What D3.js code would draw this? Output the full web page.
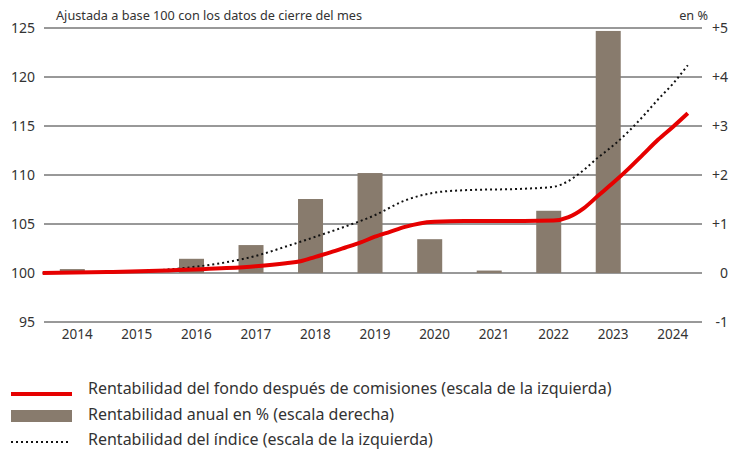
<!DOCTYPE html>
<html>
<head>
<meta charset="utf-8">
<script src="https://cdn.jsdelivr.net/npm/d3@7"></script>
<style>
  body { margin: 0; background: #fff; }
  svg text { font-family: "Noto Sans", "Open Sans", sans-serif; fill: #333; }
</style>
</head>
<body>
<svg width="738" height="453"></svg>
<script>
const years = [2014, 2015, 2016, 2017, 2018, 2019, 2020, 2021, 2022, 2023, 2024];
const annualReturn = [0.08, 0.06, 0.29, 0.57, 1.51, 2.04, 0.69, 0.05, 1.27, 4.94, 0];

const leftTicks = [95, 100, 105, 110, 115, 120, 125];
const rightTicks = [-1, 0, 1, 2, 3, 4, 5];

const fundDates = ["2013-12", "2015-01", "2016-01", "2017-01", "2017-07", "2018-01", "2018-04",
  "2018-07", "2018-10", "2019-01", "2019-04", "2019-07", "2019-10", "2020-01", "2020-04",
  "2020-07", "2021-01", "2022-01", "2022-07", "2022-10", "2023-01", "2023-04", "2023-07",
  "2023-10", "2024-01", "2024-04", "2024-07", "2024-10"];
const fundValues = [100, 100.1, 100.25, 100.5, 100.7, 101.0, 101.2,
  101.65, 102.1, 102.6, 103.1, 103.7, 104.2, 104.7, 105.06,
  105.22, 105.3, 105.3, 105.35, 105.7, 106.6, 107.9, 109.2,
  110.6, 112.1, 113.6, 114.9, 116.3];

const indexDates = ["2013-12", "2015-01", "2016-01", "2016-07", "2017-01", "2017-07", "2018-01",
  "2018-07", "2019-01", "2019-07", "2020-01", "2020-07", "2021-01", "2022-01", "2022-07",
  "2022-10", "2023-01", "2023-04", "2023-07", "2023-10", "2024-01", "2024-04", "2024-07",
  "2024-10"];
const indexValues = [100, 100.1, 100.35, 100.65, 101.1, 101.75, 102.7,
  103.7, 104.75, 105.9, 107.4, 108.2, 108.45, 108.6, 108.8,
  109.4, 110.5, 111.8, 113.0, 114.4, 116.0, 117.7, 119.3,
  121.2];

const legendLabels = [
  "Rentabilidad del fondo después de comisiones (escala de la izquierda)",
  "Rentabilidad anual en % (escala derecha)",
  "Rentabilidad del índice (escala de la izquierda)"
];

const parse = d3.timeParse("%Y-%m");
const svg = d3.select("svg");

const plotLeft = 44, plotRight = 702, plotTop = 28, plotBottom = 322;

const x = d3.scaleTime()
  .domain([new Date(2014, 0, 1), new Date(2025, 0, 1)])
  .range([47.7, 702.8]);
const yL = d3.scaleLinear().domain([95, 125]).range([plotBottom, plotTop]);
const yR = d3.scaleLinear().domain([-1, 5]).range([plotBottom, plotTop]);

// grid
svg.append("g")
  .selectAll("line")
  .data(leftTicks)
  .join("line")
  .attr("x1", plotLeft).attr("x2", plotRight)
  .attr("y1", d => yL(d)).attr("y2", d => yL(d))
  .attr("stroke", "#333").attr("stroke-width", 1);

// left axis labels
svg.append("g")
  .selectAll("text")
  .data(leftTicks)
  .join("text")
  .attr("x", 35).attr("y", d => yL(d) + 5)
  .attr("text-anchor", "end")
  .attr("font-size", 14)
  .text(d => d);

// right axis labels
svg.append("g")
  .selectAll("text")
  .data(rightTicks)
  .join("text")
  .attr("x", 728).attr("y", d => yR(d) + 5)
  .attr("text-anchor", "end")
  .attr("font-size", 14)
  .text(d => d > 0 ? "+" + d : d);

// year labels
svg.append("g")
  .selectAll("text")
  .data(years)
  .join("text")
  .attr("x", d => x(new Date(d, 6, 1)))
  .attr("y", 339)
  .attr("text-anchor", "middle")
  .attr("font-size", 13.5)
  .text(d => d);

// bars
const barW = 25;
svg.append("g")
  .selectAll("rect")
  .data(years.map((y, i) => ({year: y, v: annualReturn[i]})).filter(d => d.v > 0))
  .join("rect")
  .attr("x", d => x(new Date(d.year, 5, 1)) - barW / 2)
  .attr("width", barW)
  .attr("y", d => yR(d.v))
  .attr("height", d => yR(0) - yR(d.v))
  .attr("fill", "#887b6d");

// lines
const line = d3.line()
  .x(d => x(d.date))
  .y(d => yL(d.v))
  .curve(d3.curveMonotoneX);

const indexData = indexDates.map((d, i) => ({date: parse(d), v: indexValues[i]}));
const fundData = fundDates.map((d, i) => ({date: parse(d), v: fundValues[i]}));

svg.append("path")
  .datum(indexData)
  .attr("d", line)
  .attr("fill", "none")
  .attr("stroke", "#111")
  .attr("stroke-width", 2)
  .attr("stroke-dasharray", "2,3");

svg.append("path")
  .datum(fundData)
  .attr("d", line)
  .attr("fill", "none")
  .attr("stroke", "#e60000")
  .attr("stroke-width", 4)
  .attr("stroke-linejoin", "round");

// header texts
svg.append("text")
  .attr("x", 56).attr("y", 20)
  .attr("font-size", 12.7)
  .text("Ajustada a base 100 con los datos de cierre del mes");
svg.append("text")
  .attr("x", 708).attr("y", 20)
  .attr("text-anchor", "end")
  .attr("font-size", 12.7)
  .text("en %");

// legend
const lg = svg.append("g");
lg.append("line")
  .attr("x1", 11).attr("x2", 72).attr("y1", 394).attr("y2", 394)
  .attr("stroke", "#e60000").attr("stroke-width", 4);
lg.append("rect")
  .attr("x", 11).attr("y", 410).attr("width", 61).attr("height", 12)
  .attr("fill", "#887b6d");
lg.append("line")
  .attr("x1", 11).attr("x2", 70).attr("y1", 442).attr("y2", 442)
  .attr("stroke", "#111").attr("stroke-width", 2)
  .attr("stroke-dasharray", "2,3");
lg.selectAll("text")
  .data(legendLabels)
  .join("text")
  .attr("x", 88)
  .attr("y", (d, i) => 394 + i * 25.5)
  .attr("font-size", 16)
  .text(d => d);
</script>
</body>
</html>
